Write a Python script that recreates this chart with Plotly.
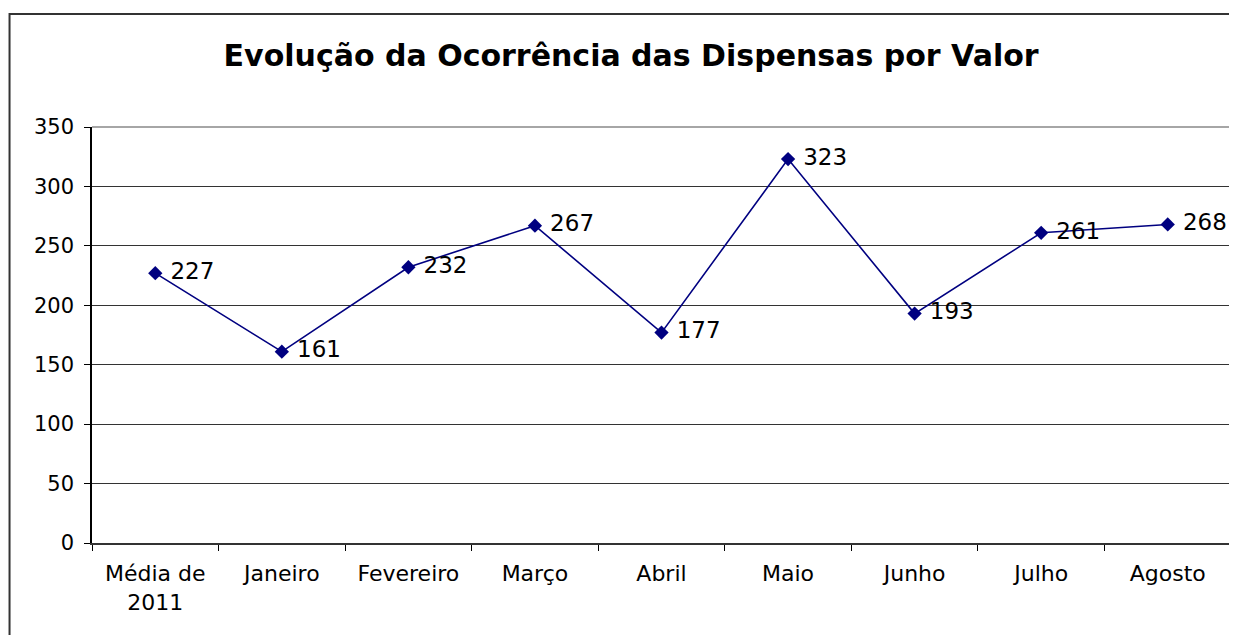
import plotly.graph_objects as go

categories = ["Média de<br>2011", "Janeiro", "Fevereiro", "Março", "Abril", "Maio", "Junho", "Julho", "Agosto"]
values = [227, 161, 232, 267, 177, 323, 193, 261, 268]
y_ticks = [0, 50, 100, 150, 200, 250, 300, 350]
title = "Evolução da Ocorrência das Dispensas por Valor"

navy = "#000080"
FONT = "DejaVu Sans, Liberation Sans, Arial"
fig = go.Figure()
fig.add_trace(go.Scatter(
    x=categories, y=values, mode="lines+markers+text",
    line=dict(color=navy, width=1.6),
    marker=dict(symbol="diamond", size=11, color=navy),
    text=[" " + str(v) for v in values], textposition="middle right",
    textfont=dict(family=FONT, size=23, color="black"),
    cliponaxis=False, showlegend=False,
))

fig.update_layout(
    width=1229, height=627,
    margin=dict(l=84, r=6, t=119, b=92),
    paper_bgcolor="white", plot_bgcolor="white",
    font=dict(family=FONT, color="black"),
    title=dict(text="<b>" + title + "</b>", x=0.507, xanchor="center", y=0.925, yanchor="middle",
               font=dict(size=30, family=FONT, color="black")),
    xaxis=dict(tickson="boundaries", ticks="outside", ticklen=6, tickcolor="black",
               showline=True, linecolor="#333333", linewidth=2, showgrid=False,
               tickfont=dict(size=22), range=[-0.5, 8.5], fixedrange=True,
               ticklabelstandoff=10),
    yaxis=dict(range=[0, 350], tickvals=y_ticks, ticks="outside", ticklen=6, tickcolor="black",
               showline=True, linecolor="black", linewidth=1.5, showgrid=True,
               gridcolor="#333333", gridwidth=1, tickfont=dict(size=21), zeroline=False,
               ticklabelstandoff=6),
    shapes=[
        dict(type="line", xref="paper", yref="paper", x0=1, x1=1, y0=0, y1=1,
             line=dict(color="#888888", width=2)),
        dict(type="line", xref="paper", yref="paper", x0=0, x1=1, y0=1, y1=1,
             line=dict(color="#888888", width=1.5)),
        dict(type="rect", xref="paper", yref="paper", x0=-0.0724, x1=1.2, y0=-0.6, y1=1.2716,
             line=dict(color="#333333", width=2)),
    ],
)

fig.write_html("out.html")
